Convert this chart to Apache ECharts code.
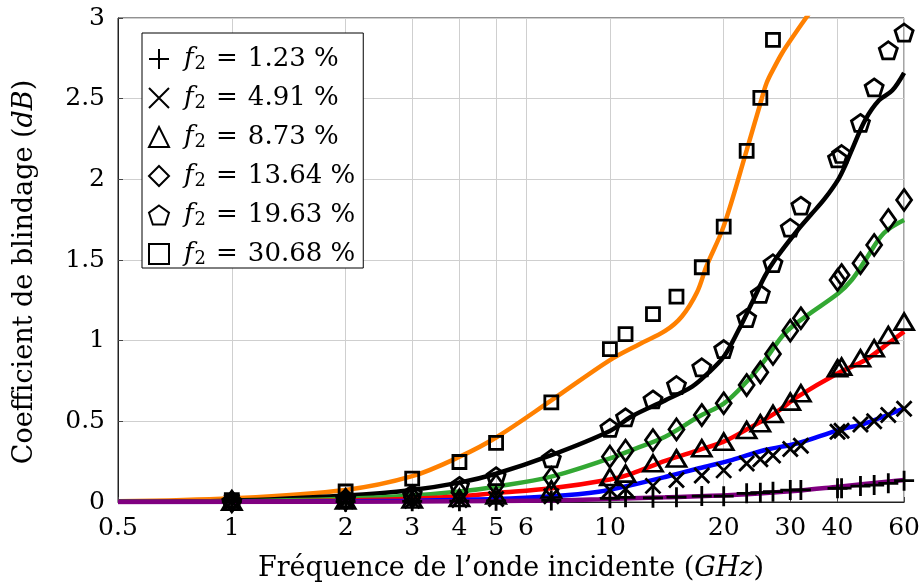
<!DOCTYPE html>
<html>
<head>
<meta charset="utf-8">
<script src="https://cdn.jsdelivr.net/npm/echarts@6/dist/echarts.min.js"></script>
<style>html,body{margin:0;padding:0;background:#fff}#c{width:923px;height:588px}</style>
</head>
<body>
<div id="c"></div>
<script>
// ---- data ----
const xTickValues = [0.5, 1, 2, 3, 4, 5, 6, 10, 20, 30, 40, 60];
const markerX = [1, 2, 3, 4, 5, 7, 10, 11, 13, 15, 17.5, 20, 23, 25, 27, 30, 32, 40, 41, 46, 50, 54.5, 60];
const seriesNames = ['f2 = 1.23 %', 'f2 = 4.91 %', 'f2 = 8.73 %', 'f2 = 13.64 %', 'f2 = 19.63 %', 'f2 = 30.68 %'];
const legendTexts = ['1.23', '4.91', '8.73', '13.64', '19.63', '30.68'];

const plusY = [0.001, 0.002, 0.004, 0.005, 0.007, 0.01, 0.023, 0.029, 0.026, 0.03, 0.037, 0.036, 0.054, 0.058, 0.064, 0.074, 0.075, 0.085, 0.086, 0.099, 0.105, 0.116, 0.132];
const crossY = [0.001, 0.004, 0.008, 0.012, 0.018, 0.035, 0.074, 0.08, 0.1, 0.136, 0.164, 0.196, 0.238, 0.265, 0.288, 0.328, 0.348, 0.436, 0.441, 0.48, 0.5, 0.539, 0.578];
const triY = [0.002, 0.01, 0.015, 0.025, 0.04, 0.078, 0.155, 0.176, 0.24, 0.27, 0.333, 0.374, 0.446, 0.488, 0.546, 0.622, 0.674, 0.829, 0.839, 0.891, 0.953, 1.035, 1.118];
const diaY = [0.003, 0.015, 0.03, 0.06, 0.105, 0.15, 0.281, 0.318, 0.384, 0.45, 0.539, 0.612, 0.725, 0.804, 0.918, 1.062, 1.139, 1.376, 1.407, 1.48, 1.593, 1.748, 1.872];
const pentY = [0.005, 0.02, 0.05, 0.1, 0.16, 0.27, 0.46, 0.525, 0.636, 0.725, 0.835, 0.948, 1.14, 1.29, 1.48, 1.70, 1.837, 2.13, 2.157, 2.35, 2.57, 2.80, 2.91];
const sqY = [0.012, 0.065, 0.145, 0.248, 0.366, 0.618, 0.948, 1.04, 1.165, 1.273, 1.455, 1.707, 2.176, 2.505, 2.864];

// fitted curves (x, y samples)
const purpleX = [0.5, 1, 3, 5, 7, 9.35, 14, 21, 31.4, 40.2, 60];
const purpleY = [0, 0.0005, 0.003, 0.006, 0.01, 0.017, 0.029, 0.043, 0.07, 0.095, 0.136];
const blueX = [0.5, 1, 2, 3, 5, 7, 9.35, 11.4, 14, 17.2, 21, 25.7, 31.4, 40.2, 47.4, 60];
const blueY = [0, 0.001, 0.004, 0.008, 0.018, 0.035, 0.064, 0.105, 0.155, 0.209, 0.26, 0.322, 0.364, 0.446, 0.488, 0.581];
const redX = [0.5, 1, 2, 3, 4, 5, 7, 10, 11.4, 14, 17.2, 20, 23.3, 27.3, 31.4, 40.2, 47.4, 54.5, 60];
const redY = [0.0005, 0.002, 0.01, 0.02, 0.035, 0.055, 0.085, 0.14, 0.175, 0.255, 0.322, 0.374, 0.457, 0.55, 0.653, 0.8, 0.88, 0.984, 1.056];
const greenX = [0.5, 1, 2, 3, 4, 5, 7, 10, 11.4, 14, 17.2, 20, 22.8, 25.7, 29, 32.9, 40.2, 43.6, 47.4, 53, 60];
const greenY = [0.001, 0.004, 0.02, 0.04, 0.065, 0.095, 0.157, 0.27, 0.322, 0.405, 0.53, 0.61, 0.736, 0.88, 1.045, 1.149, 1.294, 1.376, 1.5, 1.666, 1.748];
const blackX = [0.5, 1, 2, 3, 4, 5, 7, 10, 11.4, 14, 16.5, 18.2, 20, 21.9, 23.7, 25.7, 27.3, 31.4, 34, 37, 40.2, 42, 43.6, 47.4, 51.5, 55.8, 60];
const blackY = [0.002, 0.008, 0.04, 0.075, 0.12, 0.175, 0.29, 0.44, 0.53, 0.63, 0.715, 0.8, 0.9, 1.066, 1.23, 1.4, 1.5, 1.686, 1.78, 1.88, 2.0, 2.09, 2.18, 2.37, 2.49, 2.55, 2.66];
const orangeX = [0.5, 1, 2, 3, 4, 5, 7, 10, 12, 14, 15.5, 17, 18, 20, 23, 25, 26, 27.3, 28.5, 30, 33, 36];
const orangeY = [0.004, 0.023, 0.075, 0.16, 0.28, 0.4, 0.63, 0.88, 0.98, 1.06, 1.15, 1.3, 1.46, 1.71, 2.18, 2.47, 2.6, 2.7, 2.78, 2.86, 3.0, 3.12];

// ---- build ----
const FONT = 'DejaVu Serif';
const pairs = (xs, ys) => ys.map((y, i) => [xs[i], y]);

const curves = [
  {x: orangeX, y: orangeY, color: '#ff8000'},
  {x: blackX, y: blackY, color: '#000000'},
  {x: greenX, y: greenY, color: '#33a833'},
  {x: redX, y: redY, color: '#ff0000'},
  {x: blueX, y: blueY, color: '#0000ff'},
  {x: purpleX, y: purpleY, color: '#800080'}
];

const PLUS = 'path://M0,10 L20,10 M10,0 L10,20';
const CROSS = 'path://M0,0 L20,20 M20,0 L0,20';
const PENT = 'path://M50,0 L97.55,34.55 L79.39,90.45 L20.61,90.45 L2.45,34.55 Z';

const markers = [
  {ys: plusY, symbol: PLUS, size: 20},
  {ys: crossY, symbol: CROSS, size: 15},
  {ys: triY, symbol: 'triangle', size: [19, 16]},
  {ys: diaY, symbol: 'diamond', size: [15, 21]},
  {ys: pentY, symbol: PENT, size: [18, 17]},
  {ys: sqY, symbol: 'rect', size: 13}
];

const series = [];
curves.forEach((c, i) => {
  series.push({
    type: 'line', name: 'curve' + i, data: pairs(c.x, c.y), smooth: 0.35,
    showSymbol: false, symbol: 'none', silent: true, z: 2,
    lineStyle: {color: c.color, width: 4.5}
  });
});
markers.forEach((m, i) => {
  series.push({
    type: 'scatter', name: seriesNames[i], data: pairs(markerX, m.ys),
    symbol: m.symbol, symbolSize: m.size, z: 5,
    itemStyle: {color: 'rgba(0,0,0,0)', borderColor: '#000', borderWidth: 2.8, opacity: 1}
  });
});

const chart = echarts.init(document.getElementById('c'), null, {renderer: 'canvas'});
chart.setOption({
  animation: false,
  backgroundColor: '#fff',
  grid: {left: 118, right: 17, top: 18, bottom: 86, show: true, borderColor: '#222', borderWidth: 1, backgroundColor: 'transparent'},
  legend: {
    orient: 'vertical', left: 142, top: 33,
    data: seriesNames,
    backgroundColor: '#fff', borderColor: '#000', borderWidth: 1,
    padding: [12, 8, 0, 6],
    itemWidth: 20, itemHeight: 20, itemGap: 11,
    selectedMode: false,
    formatter: function (name) {
      const k = seriesNames.indexOf(name);
      return '{i|f}{s|2}{e|=}{n|' + legendTexts[k] + ' %}';
    },
    textStyle: {
      fontFamily: FONT, fontSize: 26, color: '#000', lineHeight: 26, padding: [0, 0, 0, 10],
      rich: {
        i: {fontFamily: FONT, fontStyle: 'italic', fontSize: 26, color: '#000', lineHeight: 26},
        s: {fontFamily: FONT, fontSize: 18, color: '#000', lineHeight: 16, padding: [10, 0, 0, 1]},
        e: {fontFamily: FONT, fontSize: 26, color: '#000', lineHeight: 26, padding: [0, 10, 0, 10]},
        n: {fontFamily: FONT, fontSize: 26, color: '#000', lineHeight: 26}
      }
    }
  },
  xAxis: {
    type: 'log', logBase: 10, min: 0.5, max: 60,
    name: 'Fréquence de l’onde incidente ({i|GHz})',
    nameLocation: 'middle', nameGap: 53,
    nameTextStyle: {fontFamily: FONT, fontSize: 27, color: '#000', rich: {i: {fontFamily: FONT, fontStyle: 'italic', fontSize: 27, color: '#000'}}},
    axisLine: {show: true, lineStyle: {color: '#222', width: 1}},
    axisTick: {show: true, inside: true, length: 5, customValues: xTickValues, lineStyle: {color: '#444'}},
    axisLabel: {customValues: xTickValues, fontFamily: FONT, fontSize: 25, color: '#000', margin: 14,
      formatter: v => String(Math.round(v * 10) / 10)},
    splitLine: {show: true, lineStyle: {color: '#cfcfcf', width: 1}},
    minorTick: {show: false}, minorSplitLine: {show: false}
  },
  yAxis: {
    type: 'value', min: 0, max: 3, interval: 0.5,
    name: 'Coefficient de blindage ({i|dB})',
    nameLocation: 'middle', nameGap: 80, nameRotate: 90,
    nameTextStyle: {fontFamily: FONT, fontSize: 27, color: '#000', padding: [0, 24, 0, 0], rich: {i: {fontFamily: FONT, fontStyle: 'italic', fontSize: 27, color: '#000'}}},
    axisLine: {show: true, lineStyle: {color: '#222', width: 1}},
    axisTick: {show: true, inside: true, length: 5, lineStyle: {color: '#444'}},
    axisLabel: {fontFamily: FONT, fontSize: 25, color: '#000', margin: 13},
    splitLine: {show: true, lineStyle: {color: '#cfcfcf', width: 1}}
  },
  series: series
});
</script>
</body>
</html>
